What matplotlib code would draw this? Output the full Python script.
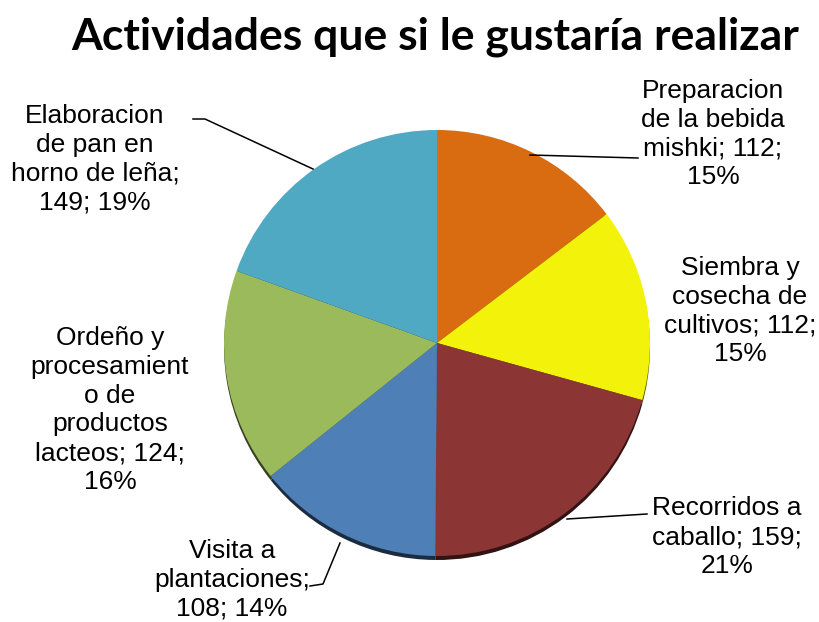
import matplotlib.pyplot as plt
import matplotlib.colors as mcolors

labels = ["Preparacion\nde la bebida\nmishki; 112;\n15%",
          "Siembra y\ncosecha de\ncultivos; 112;\n15%",
          "Recorridos a\ncaballo; 159;\n21%",
          "Visita a\nplantaciones;\n108; 14%",
          "Ordeño y\nprocesamient\no de\nproductos\nlacteos; 124;\n16%",
          "Elaboracion\nde pan en\nhorno de leña;\n149; 19%"]
values = [112, 112, 159, 108, 124, 149]
colors = ["#D96B10", "#F2F20A", "#8C3535", "#4F7FB7", "#9BBA5C", "#4FA9C2"]

W, H = 819, 622
fig = plt.figure(figsize=(W / 100, H / 100), dpi=100)
ax = fig.add_axes([0, 0, 1, 1])

cx, cy, r = 437, H - 343, 213

# shadow
dark = [mcolors.to_hex([c * 0.35 for c in mcolors.to_rgb(col)]) for col in colors]
ax.pie(values, colors=dark, startangle=90, counterclock=False,
       center=(cx, cy - 4), radius=r, frame=True)
ax.pie(values, colors=colors, startangle=90, counterclock=False,
       center=(cx, cy), radius=r, frame=True)
ax.set_xlim(0, W)
ax.set_ylim(0, H)
ax.set_aspect("equal")
ax.axis("off")

# label positions (pixels from top) and leader lines
pos = [(713, 134), (740, 311), (727, 537), (232, 580), (110, 410), (95, 159)]
leaders = [[(530, 155), (638, 158)],
           None,
           [(567, 519), (647, 514)],
           [(340, 543), (323, 584), (310, 586)],
           None,
           [(313, 169), (205, 119), (193, 119)]]

for lab, (x, y), ld in zip(labels, pos, leaders):
    ax.text(x, H - y, lab, ha="center", va="center", fontsize=19,
            family="Liberation Sans", linespacing=1.25)
    if ld:
        ax.plot([p[0] for p in ld], [H - p[1] for p in ld], color="black", lw=1.1)

ax.text(435, H - 37, "Actividades que si le gustaría realizar", ha="center", va="center",
        fontsize=32, fontweight="bold", family="Lato")

fig.savefig("out.png", dpi=100)
